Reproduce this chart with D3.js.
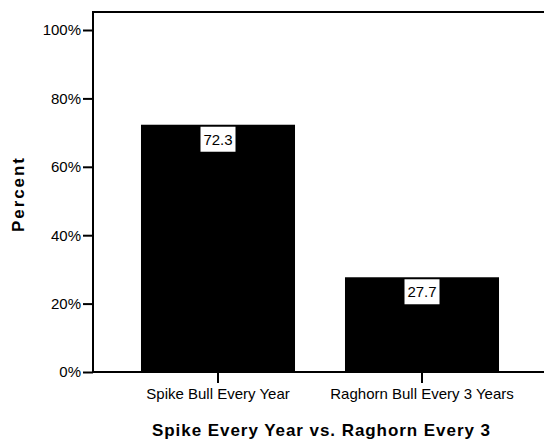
<!DOCTYPE html>
<html><head><meta charset="utf-8">
<script src="https://cdn.jsdelivr.net/npm/d3@7"></script>
<style>
body{margin:0;background:#fff;}
text{font-family:"Liberation Sans",Arial,sans-serif;fill:#000;}
</style></head>
<body><svg id="c" width="544" height="440"></svg>
<script>
const categories = ["Spike Bull Every Year", "Raghorn Bull Every 3 Years"];
const percents = [72.3, 27.7];
const yTicks = [0, 20, 40, 60, 80, 100];
const xTitle = "Spike Every Year vs. Raghorn Every 3";
const yTitle = "Percent";

const svg = d3.select("#c");
const pLeft = 93, pRight = 544, pTop = 12, pBottom = 372;
const FF = '"Liberation Sans",Arial,sans-serif';

const y = d3.scaleLinear().domain([0, 100]).range([pBottom, 30]);
const x = d3.scaleBand().domain(categories).range([116, 524])
  .paddingInner(0.245).paddingOuter(0.1225);

// bars
svg.selectAll("rect.bar").data(percents).enter().append("rect")
  .attr("class", "bar")
  .attr("x", (d, i) => x(categories[i]))
  .attr("width", x.bandwidth())
  .attr("y", d => y(d))
  .attr("height", d => pBottom - y(d))
  .attr("fill", "#000");

// value labels
const lab = svg.selectAll("g.lab").data(percents).enter().append("g")
  .attr("class", "lab")
  .attr("transform", (d, i) => `translate(${x(categories[i]) + x.bandwidth() / 2},${y(d) + 2})`);
lab.append("rect").attr("x", -17.5).attr("y", 0).attr("width", 35).attr("height", 25)
  .attr("fill", "#fff");
lab.append("text").attr("text-anchor", "middle").attr("y", 18)
  .style("font-size", "15px").text(d => d.toFixed(1));

// frame lines
svg.append("line").attr("x1", pLeft).attr("x2", pRight).attr("y1", pTop).attr("y2", pTop)
  .attr("stroke", "#000").attr("stroke-width", 2);

// y axis
const ya = svg.append("g").attr("transform", `translate(${pLeft},0)`)
  .call(d3.axisLeft(y).tickValues(yTicks).tickSize(10).tickPadding(2).tickFormat(d => d + "%"));
ya.select(".domain").remove();
ya.selectAll(".tick line").attr("stroke", "#000").attr("stroke-width", 2);
ya.selectAll(".tick text").style("font-size", "15px").style("font-family", FF).attr("fill", "#000");
svg.append("line").attr("x1", pLeft).attr("x2", pLeft).attr("y1", pTop - 1).attr("y2", pBottom + 1)
  .attr("stroke", "#000").attr("stroke-width", 2);

// x axis
const xa = svg.append("g").attr("transform", `translate(0,${pBottom})`)
  .call(d3.axisBottom(x).tickSize(11).tickPadding(5));
xa.select(".domain").remove();
xa.selectAll(".tick line").attr("stroke", "#000").attr("stroke-width", 2);
xa.selectAll(".tick text").style("font-size", "15px").style("font-family", FF).attr("fill", "#000");
svg.append("line").attr("x1", pLeft).attr("x2", pRight).attr("y1", pBottom).attr("y2", pBottom)
  .attr("stroke", "#000").attr("stroke-width", 2);

// titles
svg.append("text").attr("x", 321).attr("y", 436).attr("text-anchor", "middle")
  .style("font-size", "17px").style("font-weight", "bold")
  .attr("textLength", 338).attr("lengthAdjust", "spacing").text(xTitle);
svg.append("text").attr("transform", "translate(24,195) rotate(-90)").attr("text-anchor", "middle")
  .style("font-size", "17px").style("font-weight", "bold")
  .attr("textLength", 74).attr("lengthAdjust", "spacing").text(yTitle);
</script></body></html>
